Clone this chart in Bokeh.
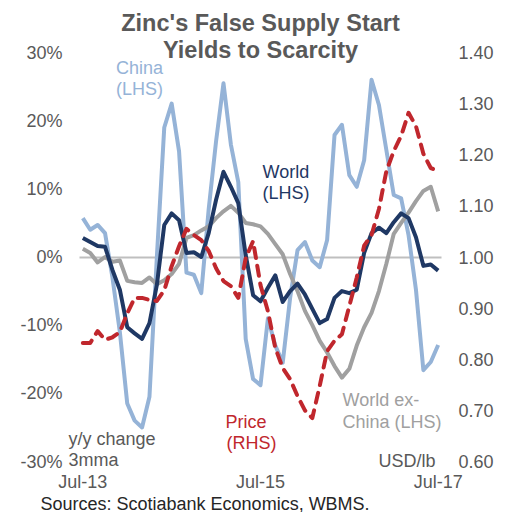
from bokeh.plotting import figure
from bokeh.models import (Range1d, LinearAxis, FixedTicker, PrintfTickFormatter,
                          NumeralTickFormatter, Label, ColumnDataSource, Title)
from bokeh.embed import file_html
from bokeh.resources import INLINE

# ---- data (monthly, Jul-13 .. Jul-17) ----
months = list(range(49))
tick_pos = [0, 24, 48]
tick_labels = ["Jul-13", "Jul-15", "Jul-17"]
pct_ticks = [-30, -20, -10, 0, 10, 20, 30]
price_ticks = [0.60, 0.70, 0.80, 0.90, 1.00, 1.10, 1.20, 1.30, 1.40]

china = [5.7, 4.0, 4.7, 3.5, -3.0, -11.0, -21.5, -24.0, -25.0, -20.5,
         0.0, 19.0, 22.5, 15.5, -2.3, -2.6, -5.3, 7.0, 17.0, 25.5,
         16.5, 11.0, -12.0, -17.9, -18.8, -9.0, -13.0, -15.5, -6.0, 1.0,
         2.2, -0.5, -1.5, 2.5, 17.9, 19.4, 12.0, 10.3, 14.2, 26.0,
         22.3, 15.7, 9.1, 8.6, 3.2, -4.8, -16.6, -15.4, -12.9]
world = [2.8, 2.2, 1.6, 1.5, -1.9, -4.8, -10.3, -11.2, -12.0, -9.7,
         -4.1, 4.7, 6.4, 5.4, 0.6, 0.7, 0.0, 3.5, 8.4, 12.5,
         10.3, 7.9, 0.3, -5.6, -6.5, -4.5, -2.7, -6.6, -5.0, -3.9,
         -5.5, -7.6, -9.7, -9.1, -6.0, -5.0, -5.3, -4.8, 0.6, 3.5,
         4.3, 3.5, 5.1, 6.4, 5.7, 2.9, -1.3, -1.1, -2.0]
world_ex_china = [1.2, 0.6, -0.8, 0.0, -0.7, -0.5, -3.5, -3.7, -3.8, -3.0,
                  -4.0, -3.4, -2.5, -1.0, 2.8, 3.2, 3.9, 4.5, 5.7, 6.7,
                  7.5, 6.5, 5.0, 4.8, 4.5, 3.4, 1.9, 0.4, -2.5, -5.0,
                  -7.9, -10.0, -12.3, -14.0, -16.0, -17.7, -16.4, -13.0, -10.3, -8.2,
                  -5.0, -1.0, 3.4, 5.0, 6.5, 8.2, 9.7, 10.3, 6.7]
price = [0.832, 0.832, 0.855, 0.838, 0.843, 0.853, 0.890, 0.920, 0.920, 0.916,
         0.914, 0.935, 0.982, 1.021, 1.055, 1.043, 1.033, 1.012, 0.978, 0.953,
         0.943, 0.920, 0.998, 1.031, 0.945, 0.894, 0.822, 0.783, 0.761, 0.728,
         0.700, 0.685, 0.748, 0.816, 0.836, 0.849, 0.904, 0.960, 1.022, 1.043,
         1.094, 1.168, 1.207, 1.237, 1.282, 1.256, 1.202, 1.174, 1.168]

src = ColumnDataSource(dict(m=months, china=china, world=world, wxc=world_ex_china, price=price))

C_CHINA = "#95B3D7"
C_WORLD = "#1F3864"
C_WXC = "#A0A0A0"
C_PRICE = "#C0272D"
C_TXT = "#595959"
FONT = "Liberation Sans"

# ---- geometry (pixels) ----
W, H = 510, 512
FL, FR, FT, FB = 66, 445, 0, 470          # frame edges
PX0, PX1 = 79, 441                        # plot-area x extent (zero line)
Y30, YM30 = 52, 461                       # pixel rows of +30% / -30%
PAD = 0.45                                # half-category padding
LABEL_SHIFT = 7                           # baseline correction for labels (px)
px_x = (PX1 - PX0) / (months[-1] + 2 * PAD)
px_y = (YM30 - Y30) / 60.0
px_p = (YM30 - Y30) / 0.8

x_start = -PAD - (PX0 - FL) / px_x
x_end = months[-1] + PAD + (FR - PX1) / px_x
y_top = 30 + (Y30 - FT) / px_y
y_bot = -30 - (FB - YM30) / px_y
p_top = 1.4 + (Y30 - FT) / px_p
p_bot = 0.6 - (FB - YM30) / px_p

p = figure(width=W, height=H, output_backend="svg", toolbar_location=None,
           x_range=Range1d(x_start, x_end), y_range=Range1d(y_bot, y_top),
           min_border_left=FL, min_border_right=W - FR, min_border_top=FT,
           min_border_bottom=H - FB)
p.outline_line_color = None
p.background_fill_color = "white"
p.border_fill_color = "white"
p.extra_y_ranges = {"price": Range1d(p_bot, p_top)}

# grid: only zero line
p.xgrid.visible = False
p.ygrid.ticker = FixedTicker(ticks=[0])
p.ygrid.grid_line_color = "#BFBFBF"
p.ygrid.grid_line_width = 2
try:
    p.ygrid.cross_bounds = (-PAD, months[-1] + PAD)
except Exception:
    p.ygrid.visible = False
    p.segment(x0=[months[0] - PAD], x1=[months[-1] + PAD], y0=[0], y1=[0],
              line_color="#BFBFBF", line_width=2)

def style_axis(ax, standoff):
    ax.axis_line_color = None
    ax.major_tick_line_color = None
    ax.minor_tick_line_color = None
    ax.major_tick_in = 0
    ax.major_tick_out = 0
    ax.major_label_text_font = FONT
    ax.major_label_text_font_size = "18px"
    ax.major_label_text_color = C_TXT
    ax.major_label_standoff = standoff

xa = p.xaxis[0]
xa.ticker = FixedTicker(ticks=tick_pos)
xa.major_label_overrides = {t: l for t, l in zip(tick_pos, tick_labels)}
style_axis(xa, 1)

ya = p.yaxis[0]
ya.ticker = FixedTicker(ticks=pct_ticks)
ya.formatter = PrintfTickFormatter(format="%d%%")
style_axis(ya, 4)

ra = LinearAxis(y_range_name="price", ticker=FixedTicker(ticks=price_ticks),
                formatter=NumeralTickFormatter(format="0.00"))
style_axis(ra, 13)
p.add_layout(ra, "right")

lw = 4
p.line("m", "china", source=src, line_color=C_CHINA, line_width=lw, line_join="round")
p.line("m", "wxc", source=src, line_color=C_WXC, line_width=lw, line_join="round")
p.line("m", "world", source=src, line_color=C_WORLD, line_width=lw, line_join="round")
p.line("m", "price", source=src, y_range_name="price", line_color=C_PRICE, line_width=lw,
       line_dash="10 8", line_cap="round", line_join="round")

# ---- text placement helpers (pixel -> data) ----
def dx(xpix):
    return x_start + (xpix - FL) / px_x
def dy(ypix):
    return 30 - (ypix - LABEL_SHIFT - Y30) / px_y

def lab(text, x, y, color, align="left", size="18px", style="normal"):
    p.add_layout(Label(x=dx(x), y=dy(y), text=text, text_color=color, text_align=align,
                       text_baseline="alphabetic", text_font=FONT, text_font_size=size,
                       text_font_style=style))

lab("Zinc's False Supply Start", 260, 29, C_TXT, "center", "23.5px", "bold")
lab("Yields to Scarcity", 260, 56, C_TXT, "center", "23.5px", "bold")

lab("China", 139, 74, C_CHINA, "center")
lab("(LHS)", 139, 95, C_CHINA, "center")
lab("World", 262, 178, C_WORLD)
lab("(LHS)", 262, 199, C_WORLD)
lab("Price", 225, 428, C_PRICE)
lab("(RHS)", 226, 449, C_PRICE)
lab("World ex-", 342, 406, C_WXC)
lab("China (LHS)", 342, 428, C_WXC)
lab("y/y change", 68, 445, C_TXT)
lab("3mma", 68, 466, C_TXT)
lab("USD/lb", 378, 467, C_TXT)

src_title = Title(text="Sources: Scotiabank Economics, WBMS.", align="left", offset=40 - FL,
                  text_font=FONT, text_font_size="18px", text_font_style="normal",
                  text_color="#262626", standoff=-6)
p.add_layout(src_title, "below")

open("out.html", "w").write(file_html(p, INLINE))
